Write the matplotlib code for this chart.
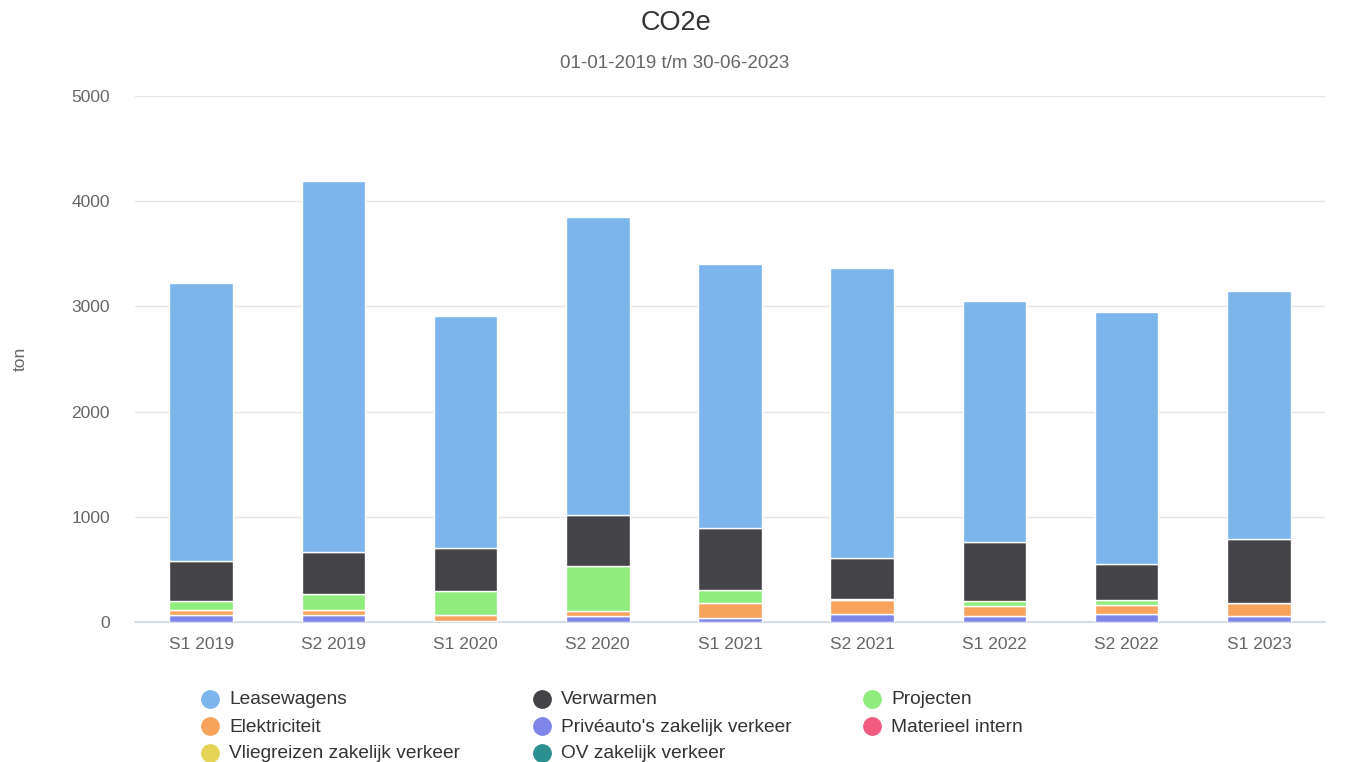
import numpy as np
import matplotlib.pyplot as plt

plt.rcParams['font.family'] = ['Liberation Sans', 'DejaVu Sans']

# Data (ton CO2e per half year)
periods = ['S1 2019', 'S2 2019', 'S1 2020', 'S2 2020', 'S1 2021',
           'S2 2021', 'S1 2022', 'S2 2022', 'S1 2023']
leasewagens = [2650, 3520, 2210, 2835, 2510, 2755, 2295, 2395, 2360]
verwarmen = [380, 400, 413, 485, 595, 390, 560, 345, 605]
projecten = [78, 150, 228, 427, 125, 8, 48, 48, 5]
elektriciteit = [48, 48, 55, 43, 135, 138, 90, 90, 120]
priveauto = [70, 70, 7, 60, 42, 72, 60, 72, 58]
materieel = [0, 0, 0, 0, 0, 0, 0, 0, 0]
vliegreizen = [0, 0, 0, 0, 0, 0, 0, 0, 0]
ov = [0, 0, 0, 0, 0, 0, 0, 0, 0]

series_names = ['Leasewagens', 'Verwarmen', 'Projecten', 'Elektriciteit',
                "Privéauto's zakelijk verkeer", 'Materieel intern',
                'Vliegreizen zakelijk verkeer', 'OV zakelijk verkeer']
series_values = [leasewagens, verwarmen, projecten, elektriciteit,
                 priveauto, materieel, vliegreizen, ov]
colors = ['#7cb5ec', '#434348', '#90ed7d', '#f7a35c',
          '#8085e9', '#f15c80', '#e4d354', '#2b908f']

fig = plt.figure(figsize=(13.72, 7.62), dpi=100)
ax = fig.add_axes([135 / 1372, 1 - 622 / 762, 1190 / 1372, 526 / 762])

x = np.arange(len(periods))
bottom = np.zeros(len(periods))
# first series is on top of the stack, so draw from the last one up
for name, vals, col in reversed(list(zip(series_names, series_values, colors))):
    vals = np.array(vals, dtype=float)
    ax.bar(x, vals, width=0.48, bottom=bottom, color=col,
           edgecolor='white', linewidth=1, zorder=3)
    bottom += vals

ax.set_xlim(-0.5, len(periods) - 0.5)
ax.set_ylim(0, 5000)
ax.set_yticks([0, 1000, 2000, 3000, 4000, 5000])
ax.set_xticks(x)
ax.set_xticklabels(periods)
ax.grid(axis='y', color='#e6e6e6', linewidth=1, zorder=0)
ax.set_axisbelow(True)
for side in ['top', 'right', 'left']:
    ax.spines[side].set_visible(False)
ax.spines['bottom'].set_color('#ccd6eb')
ax.spines['bottom'].set_linewidth(1.2)
ax.tick_params(axis='y', length=0, pad=18, labelsize=12.5, labelcolor='#666666')
ax.tick_params(axis='x', length=0, pad=11, labelsize=12.5, labelcolor='#666666')

fig.text(20 / 1372, 1 - 359 / 762, 'ton', rotation=90, ha='center', va='center',
         fontsize=12.5, color='#666666')
fig.text(676 / 1372, 1 - 23 / 762, 'CO2e', ha='center', va='center',
         fontsize=19.5, color='#333333')
fig.text(675 / 1372, 1 - 64 / 762, '01-01-2019 t/m 30-06-2023', ha='center',
         va='center', fontsize=13.5, color='#666666')

# Legend, laid out in rows of three like the original
col_x = [210, 542, 872]
row_y = [699, 726, 753]
for i, (name, col) in enumerate(zip(series_names, colors)):
    cx = col_x[i % 3]
    cy = row_y[i // 3]
    fig.lines.append(plt.Line2D([cx / 1372], [1 - cy / 762], marker='o',
                                markersize=12.5, color=col, linestyle='none',
                                transform=fig.transFigure))
    fig.text((cx + 19) / 1372, 1 - (cy + 1) / 762, name, ha='left', va='center',
             fontsize=13.8, color='#333333')

fig.savefig('out.png', dpi=100)
